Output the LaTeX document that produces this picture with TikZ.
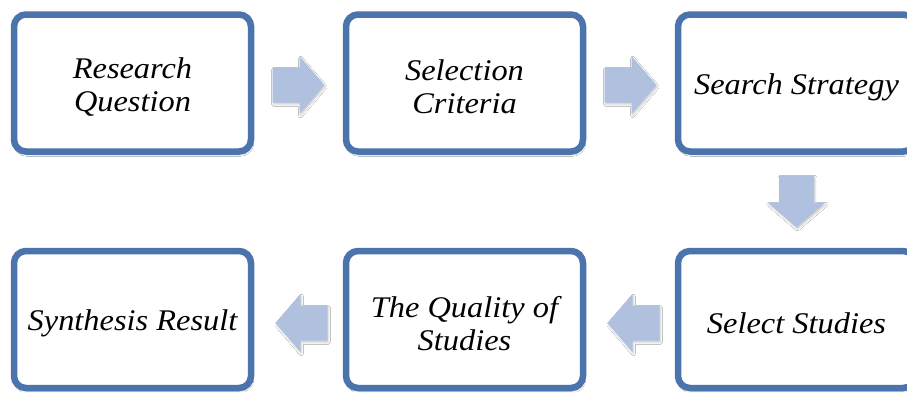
\documentclass[tikz,border=0pt]{standalone}
\usepackage{fontspec}
\setmainfont{Liberation Serif}[FakeStretch=1.08]
\usetikzlibrary{shadows.blur,calc}
\definecolor{boxline}{HTML}{4A74AB}
\definecolor{arrowfill}{HTML}{AFC1DE}
\tikzset{
  stepbox/.style={draw=boxline, line width=6.5pt, fill=white, rounded corners=12pt,
    minimum width=237pt, minimum height=137pt, inner sep=0pt,
    blur shadow={shadow xshift=1pt, shadow yshift=-3pt, shadow blur steps=6, shadow opacity=30}},
  steptext/.style={align=center, inner sep=0pt, yshift=-4pt,
    font=\fontsize{30}{33}\selectfont\itshape},
  flowarrow/.pic={
    \fill[arrowfill, blur shadow={shadow xshift=1pt, shadow yshift=-2pt, shadow blur steps=4, shadow opacity=20}]
      (-26,-17.5) -- (1,-17.5) -- (1,-29) -- (26,0) -- (1,29) -- (1,17.5) -- (-26,17.5) -- cycle;
  }
}
\begin{document}
\begin{tikzpicture}[x=1pt,y=-1pt]
  \clip (0,0) rectangle (907,392);
  \fill[white] (0,0) rectangle (907,392);
  % top row
  \node[stepbox] (rq) at (132.5,83) {};
  \node[stepbox] (sc) at (464.5,83) {};
  \node[stepbox] (ss) at (796.5,83) {};
  % bottom row
  \node[stepbox] (sr) at (132.5,319.5) {};
  \node[stepbox] (qs) at (464.5,319.5) {};
  \node[stepbox] (st) at (796.5,319.5) {};
  % texts
  \node[steptext] (rqt) at (rq.center) {Research\\Question};
  \node[steptext] (sct) at (sc.center) {Selection\\Criteria};
  \node[steptext] (sst) at (ss.center) {Search Strategy};
  \node[steptext] (srt) at (sr.center) {Synthesis Result};
  \node[steptext] (qst) at (qs.center) {The Quality of\\Studies};
  \node[steptext] (stt) at (st.center) {Select Studies};
  % connectors
  \pic[yshift=-2pt] at ($(rq.east)!0.5!(sc.west)$) {flowarrow};
  \pic[yshift=-2pt] at ($(sc.east)!0.5!(ss.west)$) {flowarrow};
  \pic[rotate=-90] at ($(ss.south)!0.5!(st.north)$) {flowarrow};
  \pic[rotate=180, xshift=-3pt, yshift=3.5pt] at ($(st.west)!0.5!(qs.east)$) {flowarrow};
  \pic[rotate=180, xshift=-3pt, yshift=3.5pt] at ($(qs.west)!0.5!(sr.east)$) {flowarrow};
\end{tikzpicture}
\end{document}
